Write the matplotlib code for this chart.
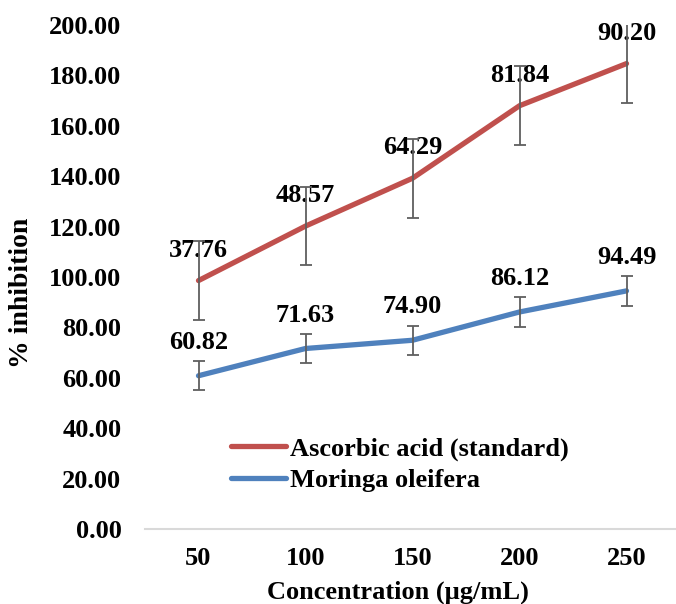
import matplotlib
matplotlib.use("Agg")
import matplotlib.pyplot as plt
import numpy as np

categories = ["50", "100", "150", "200", "250"]
moringa = [60.82, 71.63, 74.90, 86.12, 94.49]
ascorbic = [37.76, 48.57, 64.29, 81.84, 90.20]
moringa_err = [5.8, 5.8, 5.8, 5.8, 5.8]
ascorbic_err = [15.6, 15.6, 15.6, 15.6, 15.6]
yticks = [0, 20, 40, 60, 80, 100, 120, 140, 160, 180, 200]

plt.rcParams['font.family'] = ['Liberation Serif', 'DejaVu Serif']
plt.rcParams['font.weight'] = 'bold'

W, H = 676, 604
fig = plt.figure(figsize=(W / 100, H / 100), dpi=100)
ax = fig.add_axes([145 / W, (H - 529) / H, 535 / W, 504 / H])

x = np.arange(len(categories))
stacked = np.array(moringa) + np.array(ascorbic)

red = "#C0504D"
blue = "#4F81BD"
errc = "#5F5F5F"

ax.plot(x, stacked, color=red, lw=3.8, solid_capstyle='round', zorder=3,
        label="Ascorbic acid (standard)")
ax.plot(x, moringa, color=blue, lw=3.8, solid_capstyle='round', zorder=3,
        label="Moringa oleifera")
ax.errorbar(x, stacked, yerr=ascorbic_err, fmt='none', ecolor=errc,
            elinewidth=1.3, capsize=4.2, capthick=1.3, zorder=5)
ax.errorbar(x, moringa, yerr=moringa_err, fmt='none', ecolor=errc,
            elinewidth=1.3, capsize=4.2, capthick=1.3, zorder=5)

for xi, yv, lab in zip(x, stacked, ascorbic):
    ax.annotate(f"{lab:.2f}", (xi, yv), xytext=(0, 22), textcoords='offset points',
                ha='center', va='center', fontsize=19, fontweight='bold', zorder=4)
for xi, yv, lab in zip(x, moringa, moringa):
    ax.annotate(f"{lab:.2f}", (xi, yv), xytext=(0, 24), textcoords='offset points',
                ha='center', va='center', fontsize=19, fontweight='bold', zorder=4)

ax.set_xlim(-0.5, len(categories) - 0.5)
ax.set_ylim(0, 200)
ax.set_xticks(x)
ax.set_xticklabels(categories)
ax.set_yticks(yticks)
ax.set_yticklabels([f"{v:.2f}" for v in yticks])
ax.tick_params(axis='both', length=0, labelsize=19)
ax.tick_params(axis='x', pad=13)
ax.tick_params(axis='y', pad=17)

for s in ['top', 'right', 'left']:
    ax.spines[s].set_visible(False)
ax.spines['bottom'].set_color('#D9D9D9')
ax.spines['bottom'].set_linewidth(1.5)

fig.text(398 / W, 1 - 592 / H, "Concentration (µg/mL)", ha='center', va='center',
         fontsize=19, fontweight='bold')
fig.text(22 / W, 1 - 293 / H, "% inhibition", ha='center', va='center',
         rotation=90, fontsize=20, fontweight='bold')

leg = ax.legend(loc='upper left', bbox_to_anchor=((231 - 145) / 535, (529 - 437) / 504),
                frameon=False, fontsize=19, handlelength=2.1, handletextpad=0.12,
                labelspacing=0.3, borderaxespad=0, borderpad=0)

fig.savefig("out.png", dpi=100)
